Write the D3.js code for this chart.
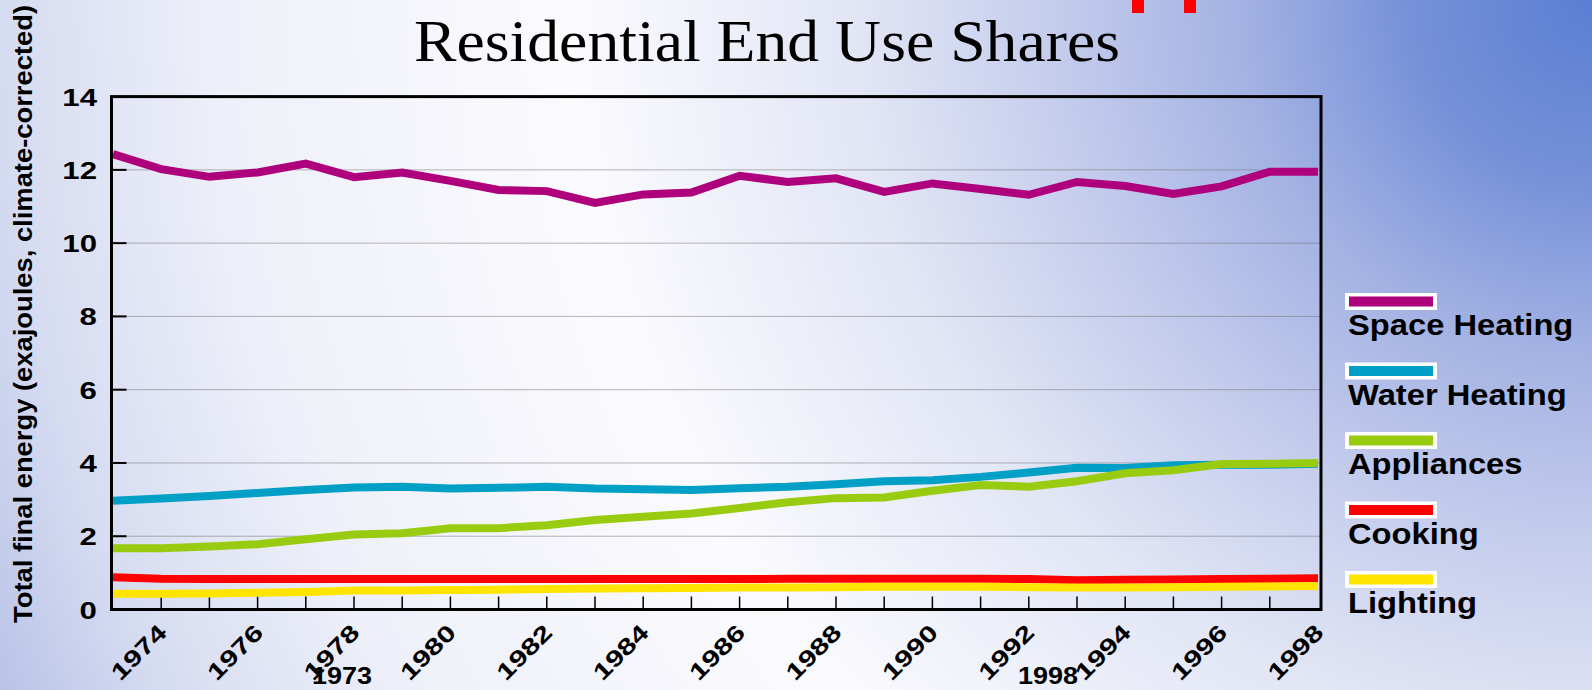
<!DOCTYPE html>
<html>
<head>
<meta charset="utf-8">
<script src="https://cdn.jsdelivr.net/npm/d3@7"></script>
<style>
  html, body { margin: 0; padding: 0; overflow: hidden; }
  svg { display: block; }
</style>
</head>
<body>
<svg id="chart"></svg>
<script>
/* Residential End Use Shares, 1973-1998 */

const years = [1973, 1974, 1975, 1976, 1977, 1978, 1979, 1980, 1981, 1982, 1983, 1984, 1985,
               1986, 1987, 1988, 1989, 1990, 1991, 1992, 1993, 1994, 1995, 1996, 1997, 1998];

const spaceHeating = [12.43, 12.02, 11.81, 11.93, 12.17, 11.8, 11.93, 11.7, 11.45, 11.42, 11.1, 11.33, 11.38,
                      11.84, 11.67, 11.77, 11.4, 11.63, 11.48, 11.32, 11.67, 11.56, 11.34, 11.55, 11.95, 11.95];
const waterHeating = [2.97, 3.03, 3.1, 3.18, 3.26, 3.33, 3.35, 3.3, 3.32, 3.35, 3.3, 3.28, 3.26,
                      3.31, 3.35, 3.42, 3.5, 3.53, 3.62, 3.74, 3.87, 3.86, 3.94, 3.95, 3.95, 3.98];
const appliances   = [1.67, 1.67, 1.72, 1.78, 1.92, 2.05, 2.08, 2.22, 2.22, 2.3, 2.44, 2.53, 2.62,
                      2.77, 2.93, 3.04, 3.06, 3.24, 3.4, 3.35, 3.5, 3.72, 3.8, 3.97, 3.98, 4.0];
const cooking      = [0.88, 0.84, 0.83, 0.83, 0.83, 0.83, 0.83, 0.83, 0.83, 0.83, 0.83, 0.83, 0.83,
                      0.83, 0.84, 0.84, 0.84, 0.84, 0.84, 0.83, 0.8, 0.81, 0.82, 0.83, 0.84, 0.85];
const lighting     = [0.43, 0.43, 0.44, 0.46, 0.48, 0.52, 0.52, 0.53, 0.54, 0.56, 0.57, 0.58, 0.59,
                      0.6, 0.6, 0.61, 0.62, 0.62, 0.62, 0.61, 0.6, 0.6, 0.61, 0.62, 0.63, 0.64];

const seriesNames  = ['Space Heating', 'Water Heating', 'Appliances', 'Cooking', 'Lighting'];
const seriesValues = [spaceHeating, waterHeating, appliances, cooking, lighting];
const seriesColors = ['#ae007c', '#00a0c6', '#99cc11', '#ff0000', '#ffe400'];

const yTicks = [0, 2, 4, 6, 8, 10, 12, 14];
const xTickYears = [1974, 1975, 1976, 1977, 1978, 1979, 1980, 1981, 1982, 1983, 1984, 1985,
                    1986, 1987, 1988, 1989, 1990, 1991, 1992, 1993, 1994, 1995, 1996, 1997];
const xLabelYears = [1974, 1976, 1978, 1980, 1982, 1984, 1986, 1988, 1990, 1992, 1994, 1996, 1998];
const endLabels = [{ text: '1973', x: 342 }, { text: '1998', x: 1048 }];

const W = 1592, H = 690;
const PLOT = { left: 111.5, right: 1321, top: 96.6, bottom: 609.5 };
const FONT = 'Arial, "Liberation Sans", Helvetica, sans-serif';

const svg = d3.select('#chart').attr('width', W).attr('height', H);
const defs = svg.append('defs');

// background: white near lower middle, blue toward the top right corner
const bg = defs.append('radialGradient')
    .attr('id', 'bg')
    .attr('gradientUnits', 'userSpaceOnUse')
    .attr('cx', W).attr('cy', 0).attr('r', 1760);
[[0, '#5a7fd3'], [0.1, '#7590d8'], [0.2, '#a3b2e3'], [0.3, '#c3cbec'], [0.42, '#e2e6f5'],
 [0.58, '#fbfbfe'], [0.78, '#eef0f9'], [0.9, '#d6dcf1'], [1, '#b4bfe5']].forEach(([o, c]) =>
    bg.append('stop').attr('offset', o).attr('stop-color', c));
svg.append('rect').attr('width', W).attr('height', H).attr('fill', 'url(#bg)');

// the two little red marks at the top edge
svg.append('rect').attr('x', 1132).attr('y', 0).attr('width', 12).attr('height', 13).attr('fill', '#ff0000');
svg.append('rect').attr('x', 1184).attr('y', 0).attr('width', 12).attr('height', 13).attr('fill', '#ff0000');

function stretch(sel, k) {
    sel.each(function() {
        const w = this.getComputedTextLength();
        d3.select(this).attr('textLength', w * k).attr('lengthAdjust', 'spacingAndGlyphs');
    });
}

/* Title */
svg.append('text')
    .attr('x', 767).attr('y', 61)
    .attr('text-anchor', 'middle')
    .attr('font-family', '"Times New Roman", "Liberation Serif", serif')
    .attr('font-size', 60)
    .attr('fill', '#000')
    .attr('textLength', 706).attr('lengthAdjust', 'spacingAndGlyphs')
    .text('Residential End Use Shares');

/* Scales */
const x = d3.scaleLinear().domain([1973, 1998]).range([113, 1318]);
const y = d3.scaleLinear().domain([0, 14]).range([PLOT.bottom, PLOT.top]);

const g = svg.append('g');

// dotted gridlines
g.selectAll('.grid')
    .data(yTicks.filter(v => v > 0 && v < 14))
    .enter().append('line')
    .attr('x1', PLOT.left).attr('x2', PLOT.right)
    .attr('y1', d => y(d)).attr('y2', d => y(d))
    .attr('stroke', '#6e6e6e').attr('stroke-width', 1)
    .attr('stroke-dasharray', '1,1');

// y ticks (inside)
g.selectAll('.ytick')
    .data(yTicks.filter(v => v > 0 && v < 14))
    .enter().append('line')
    .attr('x1', PLOT.left).attr('x2', PLOT.left + 15)
    .attr('y1', d => y(d)).attr('y2', d => y(d))
    .attr('stroke', '#000').attr('stroke-width', 2);

// x ticks (inside, upward)
g.selectAll('.xtick')
    .data(xTickYears)
    .enter().append('line')
    .attr('x1', d => x(d)).attr('x2', d => x(d))
    .attr('y1', PLOT.bottom).attr('y2', PLOT.bottom - 13)
    .attr('stroke', '#000').attr('stroke-width', 1.5);

// series lines
const line = d3.line()
    .x((d, i) => x(years[i]))
    .y(d => y(d));

g.selectAll('.series')
    .data(seriesValues)
    .enter().append('path')
    .attr('d', d => line(d))
    .attr('fill', 'none')
    .attr('stroke', (d, i) => seriesColors[i])
    .attr('stroke-width', 8)
    .attr('stroke-linejoin', 'miter');

// plot frame
g.append('rect')
    .attr('x', PLOT.left).attr('y', PLOT.top)
    .attr('width', PLOT.right - PLOT.left).attr('height', PLOT.bottom - PLOT.top)
    .attr('fill', 'none').attr('stroke', '#000').attr('stroke-width', 3);

// y labels
const yLab = svg.selectAll('.ylab')
    .data(yTicks)
    .enter().append('text')
    .attr('x', 97).attr('y', d => y(d) + 9)
    .attr('text-anchor', 'end')
    .attr('font-family', FONT).attr('font-weight', 'bold').attr('font-size', 24)
    .attr('fill', '#000')
    .text(d => d);
stretch(yLab, 1.3);

// x labels, rotated
const xLab = svg.selectAll('.xlab')
    .data(xLabelYears)
    .enter().append('text')
    .attr('transform', d => `translate(${x(d) + 7},${634}) rotate(-45)`)
    .attr('text-anchor', 'end')
    .attr('font-family', FONT).attr('font-weight', 'bold').attr('font-size', 23)
    .attr('fill', '#000')
    .text(d => d);
stretch(xLab, 1.32);

// start / end year notes under the axis
svg.selectAll('.endlab')
    .data(endLabels)
    .enter().append('text')
    .attr('x', d => d.x).attr('y', 684)
    .attr('text-anchor', 'middle')
    .attr('font-family', FONT).attr('font-weight', 'bold').attr('font-size', 23)
    .attr('fill', '#000')
    .attr('textLength', 60).attr('lengthAdjust', 'spacingAndGlyphs')
    .text(d => d.text);

// y axis title
svg.append('text')
    .attr('transform', `translate(32,${314}) rotate(-90)`)
    .attr('text-anchor', 'middle')
    .attr('font-family', FONT).attr('font-weight', 'bold').attr('font-size', 25)
    .attr('fill', '#000')
    .attr('textLength', 618).attr('lengthAdjust', 'spacingAndGlyphs')
    .text('Total final energy (exajoules, climate-corrected)');

/* Legend */
const legend = svg.selectAll('.legend')
    .data(seriesNames)
    .enter().append('g')
    .attr('transform', (d, i) => `translate(1345,${293 + i * 69.5})`);

legend.append('rect')
    .attr('width', 92).attr('height', 17)
    .attr('fill', '#fff');
legend.append('rect')
    .attr('x', 4).attr('y', 3.5)
    .attr('width', 84).attr('height', 10)
    .attr('fill', (d, i) => seriesColors[i]);
const legText = legend.append('text')
    .attr('x', 3).attr('y', 42)
    .attr('font-family', FONT).attr('font-weight', 'bold').attr('font-size', 30)
    .attr('fill', '#000')
    .text(d => d);
stretch(legText, 1.09);
</script>
</body>
</html>
